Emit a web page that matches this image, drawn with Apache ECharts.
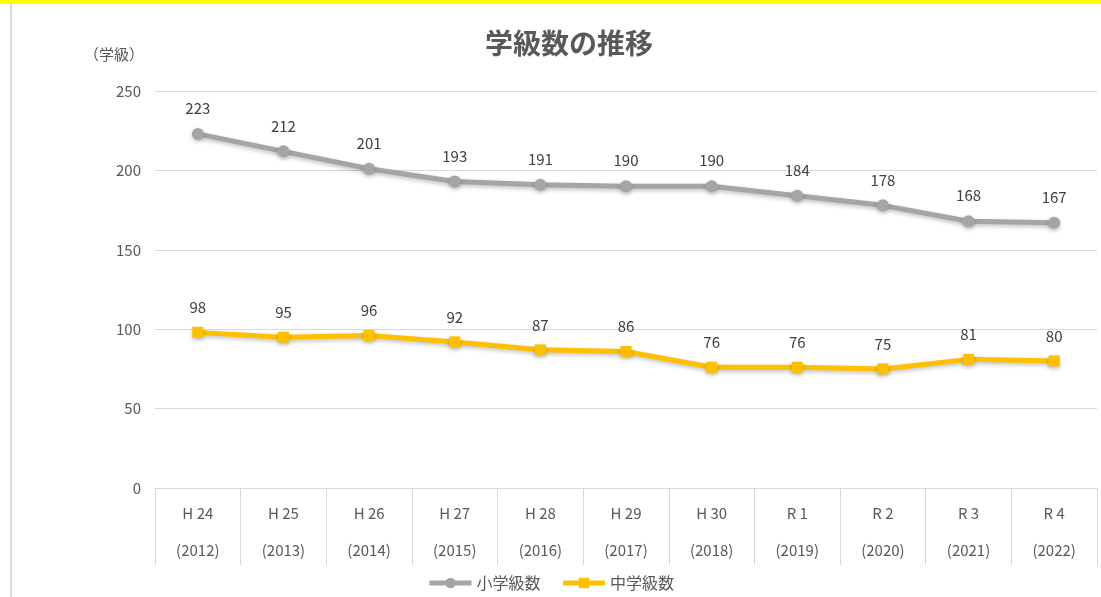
<!DOCTYPE html>
<html lang="ja">
	<head>
		<meta charset="UTF-8">
		<title>学級数の推移</title>
		<style type="text/css">
			html,
			body,
			#main {
				padding: 0;
				margin: 0;
				overflow: hidden;
				background-color: #fff;
				width: 100%;
				height: 100%;
			}
		</style>
	</head>
	<body>
		<div id="main"></div>
		<script type="text/javascript" src="https://cdn.jsdelivr.net/npm/echarts@6/dist/echarts.min.js"></script>
		<script type="text/javascript">
			// 年度（和暦 / 西暦）
			const eras = ['H 24', 'H 25', 'H 26', 'H 27', 'H 28', 'H 29', 'H 30', 'R 1', 'R 2', 'R 3', 'R 4'];
			const years = ['2012', '2013', '2014', '2015', '2016', '2017', '2018', '2019', '2020', '2021', '2022'];
			// 小学級数・中学級数
			const elementary = [223, 212, 201, 193, 191, 190, 190, 184, 178, 168, 167];
			const juniorHigh = [98, 95, 96, 92, 87, 86, 76, 76, 75, 81, 80];

			const font = '"Noto Sans CJK JP", "Noto Sans", sans-serif';
			const categories = eras.map(function (e, i) {
				return e + '\n(' + years[i] + ')';
			});

			const chart = echarts.init(document.getElementById('main'));

			function lineSeries (name, data, color, symbol) {
				return {
					name: name,
					type: 'line',
					data: data,
					symbol: symbol,
					symbolSize: symbol === 'rect' ? 11 : 12,
					lineStyle: {
						color: color,
						width: 5,
						shadowColor: 'rgba(0,0,0,0.25)',
						shadowBlur: 4,
						shadowOffsetY: 2
					},
					itemStyle: {
						color: color,
						shadowColor: 'rgba(0,0,0,0.25)',
						shadowBlur: 4,
						shadowOffsetY: 2
					},
					label: {
						show: true,
						position: 'top',
						distance: 12,
						color: '#404040',
						fontSize: 15,
						fontFamily: font
					},
					emphasis: { disabled: true },
					animation: false
				};
			}

			chart.setOption({
				backgroundColor: '#fff',
				title: {
					text: '学級数の推移',
					left: 564,
					top: 24,
					textAlign: 'center',
					textStyle: {
						color: '#595959',
						fontSize: 28,
						fontWeight: 'bold',
						fontFamily: font
					}
				},
				graphic: [
					{ type: 'rect', shape: { x: 0, y: 0, width: 1101, height: 4 }, style: { fill: '#ffff00' } },
					{ type: 'line', shape: { x1: 11, y1: 4, x2: 11, y2: 597 }, style: { stroke: '#d9d9d9', lineWidth: 2 } },
					{ type: 'text', left: 84, top: 47, style: { text: '（学級）', fill: '#595959', fontSize: 15, fontFamily: font } }
				],
				legend: {
					bottom: 1,
					left: 'center',
					itemWidth: 42,
					itemHeight: 13,
					itemGap: 20,
					lineStyle: { width: 5 },
					textStyle: { color: '#595959', fontSize: 16, fontFamily: font },
					data: ['小学級数', '中学級数']
				},
				grid: {
					left: 155,
					right: 4,
					top: 91,
					bottom: 109
				},
				xAxis: {
					type: 'category',
					data: categories,
					boundaryGap: true,
					axisLine: { show: true, lineStyle: { color: '#d9d9d9', width: 1 } },
					axisTick: {
						show: true,
						interval: 0,
						length: 77,
						lineStyle: { color: '#d9d9d9' }
					},
					axisLabel: {
						interval: 0,
						margin: 7,
						color: '#595959',
						fontSize: 15,
						lineHeight: 37,
						fontFamily: font
					}
				},
				yAxis: {
					type: 'value',
					min: 0,
					max: 250,
					interval: 50,
					axisLine: { show: false },
					axisTick: { show: false },
					axisLabel: { color: '#595959', fontSize: 15, margin: 14, fontFamily: font },
					splitLine: { lineStyle: { color: '#d9d9d9', width: 1 } }
				},
				series: [
					lineSeries('小学級数', elementary, '#a5a5a5', 'circle'),
					lineSeries('中学級数', juniorHigh, '#ffc000', 'rect')
				]
			});
		</script>
	</body>
</html>
